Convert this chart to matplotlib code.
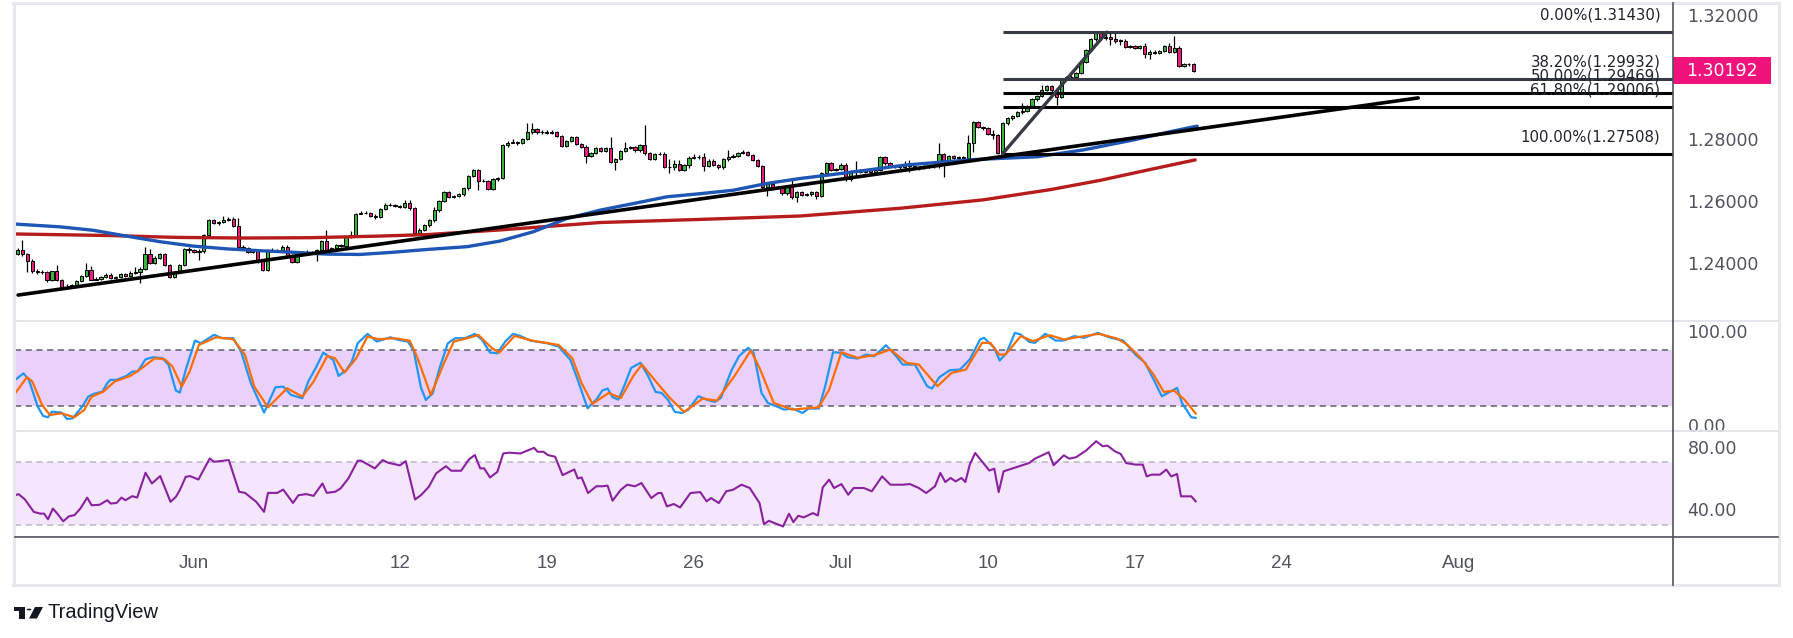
import matplotlib
matplotlib.use("Agg")
import matplotlib.pyplot as plt
from matplotlib.lines import Line2D
from matplotlib.patches import Rectangle, Polygon, Circle
from matplotlib.transforms import blended_transform_factory
import numpy as np

plt.rcParams['font.family'] = ['DejaVu Sans']

# ---------------- data ----------------
first_open = 1.2428
closes = [
 1.2440,1.2426,1.2405,1.2373,1.2368,1.2369,1.2343,1.2371,1.2345,1.2320,
 1.2322,1.2327,1.2341,1.2356,1.2376,1.2345,1.2348,1.2352,1.2360,1.2350,
 1.2352,1.2362,1.2356,1.2367,1.2370,1.2380,1.2427,1.2399,1.2416,1.2427,
 1.2392,1.2354,1.2370,1.2392,1.2444,1.2440,1.2435,1.2437,1.2489,1.2537,
 1.2526,1.2530,1.2538,1.2541,1.2518,1.2451,1.2447,1.2434,1.2436,1.2408,
 1.2376,1.2440,1.2438,1.2440,1.2451,1.2423,1.2402,1.2431,1.2433,1.2435,
 1.2432,1.2440,1.2470,1.2440,1.2446,1.2455,1.2453,1.2481,1.2488,1.2558,
 1.2561,1.2560,1.2550,1.2548,1.2571,1.2586,1.2587,1.2582,1.2580,1.2592,
 1.2575,1.2496,1.2506,1.2520,1.2536,1.2569,1.2599,1.2626,1.2612,1.2614,
 1.2620,1.2639,1.2679,1.2699,1.2664,1.2664,1.2638,1.2668,1.2671,1.2778,
 1.2787,1.2789,1.2787,1.2798,1.2820,1.2830,1.2820,1.2822,1.2817,1.2820,
 1.2808,1.2777,1.2792,1.2804,1.2782,1.2774,1.2744,1.2754,1.2768,1.2760,
 1.2768,1.2723,1.2734,1.2760,1.2770,1.2771,1.2762,1.2778,1.2752,1.2735,
 1.2750,1.2751,1.2709,1.2707,1.2717,1.2698,1.2714,1.2738,1.2739,1.2740,
 1.2711,1.2729,1.2714,1.2707,1.2733,1.2741,1.2745,1.2754,1.2757,1.2747,
 1.2731,1.2711,1.2642,1.2652,1.2639,1.2642,1.2623,1.2647,1.2610,1.2626,
 1.2618,1.2620,1.2626,1.2616,1.2688,1.2720,1.2698,1.2702,1.2716,1.2668,
 1.2696,1.2697,1.2692,1.2698,1.2691,1.2699,1.2739,1.2720,1.2712,1.2710,
 1.2707,1.2718,1.2712,1.2707,1.2708,1.2709,1.2710,1.2710,1.2750,1.2729,
 1.2744,1.2738,1.2741,1.2736,1.2784,1.2852,1.2838,1.2833,1.2814,1.2810,
 1.2754,1.2849,1.2865,1.2872,1.2884,1.2890,1.2903,1.2926,1.2937,1.2956,
 1.2969,1.2955,1.2935,1.2989,1.2997,1.2999,1.3012,1.3048,1.3085,1.3120,
 1.3141,1.3123,1.3128,1.3120,1.3116,1.3116,1.3096,1.3099,1.3092,1.3099,
 1.3072,1.3080,1.3077,1.3083,1.3098,1.3080,1.3093,1.3034,1.3039,1.3039,
 1.3019]
highs = [
 1.2446,1.2474,1.2430,1.2410,1.2380,1.2375,1.2372,1.2374,1.2392,1.2348,
 1.2330,1.2332,1.2345,1.2360,1.2397,1.2388,1.2352,1.2356,1.2366,1.2366,
 1.2356,1.2366,1.2366,1.2372,1.2384,1.2385,1.2449,1.2445,1.2420,1.2432,
 1.2431,1.2396,1.2374,1.2396,1.2448,1.2451,1.2445,1.2442,1.2492,1.2541,
 1.2541,1.2534,1.2550,1.2546,1.2546,1.2543,1.2455,1.2450,1.2441,1.2442,
 1.2412,1.2444,1.2446,1.2445,1.2455,1.2456,1.2427,1.2435,1.2438,1.2440,
 1.2438,1.2444,1.2474,1.2505,1.2450,1.2459,1.2460,1.2485,1.2501,1.2561,
 1.2566,1.2565,1.2563,1.2555,1.2575,1.2592,1.2592,1.2590,1.2587,1.2603,
 1.2601,1.2578,1.2510,1.2524,1.2540,1.2580,1.2603,1.2630,1.2630,1.2618,
 1.2624,1.2643,1.2683,1.2703,1.2703,1.2668,1.2667,1.2672,1.2676,1.2782,
 1.2791,1.2797,1.2792,1.2802,1.2851,1.2849,1.2834,1.2828,1.2826,1.2826,
 1.2824,1.2812,1.2796,1.2808,1.2808,1.2786,1.2778,1.2758,1.2772,1.2772,
 1.2772,1.2804,1.2738,1.2764,1.2789,1.2776,1.2775,1.2782,1.2844,1.2756,
 1.2754,1.2756,1.2755,1.2735,1.2730,1.2730,1.2718,1.2742,1.2750,1.2746,
 1.2752,1.2733,1.2733,1.2718,1.2737,1.2763,1.2750,1.2758,1.2762,1.2760,
 1.2750,1.2735,1.2715,1.2656,1.2656,1.2646,1.2646,1.2651,1.2671,1.2630,
 1.2630,1.2624,1.2630,1.2630,1.2692,1.2724,1.2724,1.2706,1.2720,1.2720,
 1.2700,1.2727,1.2701,1.2702,1.2702,1.2704,1.2743,1.2743,1.2724,1.2716,
 1.2716,1.2728,1.2731,1.2716,1.2712,1.2713,1.2714,1.2715,1.2787,1.2754,
 1.2748,1.2748,1.2745,1.2745,1.2811,1.2856,1.2856,1.2840,1.2836,1.2826,
 1.2814,1.2853,1.2869,1.2876,1.2888,1.2915,1.2907,1.2930,1.2941,1.2973,
 1.2973,1.2973,1.2959,1.2993,1.3001,1.3004,1.3016,1.3052,1.3089,1.3124,
 1.3143,1.3143,1.3139,1.3140,1.3139,1.3121,1.3120,1.3103,1.3103,1.3103,
 1.3109,1.3084,1.3084,1.3087,1.3102,1.3109,1.3131,1.3097,1.3043,1.3044,
 1.3043]
lows = [
 1.2425,1.2420,1.2370,1.2366,1.2364,1.2362,1.2338,1.2340,1.2340,1.2316,
 1.2315,1.2318,1.2322,1.2338,1.2352,1.2342,1.2343,1.2344,1.2350,1.2346,
 1.2346,1.2349,1.2352,1.2352,1.2362,1.2333,1.2375,1.2395,1.2396,1.2412,
 1.2388,1.2350,1.2350,1.2366,1.2388,1.2432,1.2431,1.2408,1.2432,1.2485,
 1.2523,1.2522,1.2527,1.2534,1.2515,1.2447,1.2443,1.2430,1.2430,1.2397,
 1.2372,1.2372,1.2434,1.2434,1.2436,1.2420,1.2398,1.2398,1.2428,1.2430,
 1.2428,1.2404,1.2436,1.2436,1.2436,1.2442,1.2450,1.2450,1.2478,1.2484,
 1.2555,1.2555,1.2546,1.2540,1.2544,1.2568,1.2581,1.2578,1.2576,1.2577,
 1.2570,1.2492,1.2492,1.2502,1.2516,1.2532,1.2562,1.2595,1.2608,1.2608,
 1.2610,1.2616,1.2635,1.2675,1.2634,1.2659,1.2634,1.2634,1.2664,1.2668,
 1.2774,1.2784,1.2780,1.2783,1.2794,1.2815,1.2816,1.2816,1.2814,1.2814,
 1.2805,1.2774,1.2773,1.2788,1.2778,1.2770,1.2720,1.2739,1.2750,1.2756,
 1.2756,1.2720,1.2699,1.2730,1.2756,1.2766,1.2758,1.2758,1.2748,1.2731,
 1.2731,1.2746,1.2705,1.2690,1.2700,1.2694,1.2694,1.2706,1.2734,1.2735,
 1.2696,1.2707,1.2710,1.2703,1.2703,1.2729,1.2738,1.2740,1.2750,1.2743,
 1.2727,1.2707,1.2638,1.2614,1.2635,1.2636,1.2619,1.2619,1.2606,1.2596,
 1.2614,1.2614,1.2616,1.2605,1.2612,1.2684,1.2694,1.2694,1.2698,1.2664,
 1.2664,1.2679,1.2688,1.2688,1.2687,1.2687,1.2695,1.2716,1.2708,1.2705,
 1.2703,1.2703,1.2693,1.2703,1.2698,1.2703,1.2704,1.2706,1.2705,1.2677,
 1.2725,1.2734,1.2734,1.2732,1.2732,1.2757,1.2834,1.2828,1.2810,1.2800,
 1.27508,1.2751,1.2845,1.2861,1.2868,1.2880,1.2886,1.2899,1.2922,1.2933,
 1.2952,1.2951,1.2908,1.2931,1.2985,1.2993,1.2995,1.3008,1.3044,1.3081,
 1.3116,1.3119,1.3119,1.3102,1.3107,1.3102,1.3092,1.3092,1.3088,1.3088,
 1.3059,1.3055,1.3073,1.3073,1.3079,1.3076,1.3076,1.3030,1.3030,1.3034,
 1.3015]

ma_blue_idx = [-0.5,8.7,15.4,22.3,29.1,35.8,42.7,49.5,56.2,63.1,69.9,76.6,83.5,91.7,
               98.4,105.2,112.1,118.9,125.6,132.5,139.3,146.0,152.9,159.7,166.4,173.3,
               181.5,195.0,208.0,217.4,227.6,235.2,240.7]
ma_blue = [1.2524,1.2515,1.2504,1.2485,1.2467,1.2453,1.2444,1.2438,1.2433,1.2427,1.2426,
           1.2433,1.2442,1.2451,1.2469,1.2499,1.2542,1.2569,1.2590,1.2612,1.2622,1.2633,
           1.2655,1.2671,1.2684,1.2698,1.2715,1.2732,1.2741,1.2763,1.2795,1.2822,1.2840]
ma_red_idx = [-0.5,18.9,32.5,46.0,59.7,73.3,83.5,98.4,118.9,139.3,159.7,180.1,197.0,
              210.7,220.9,231.1,240.3]
ma_red = [1.2492,1.2487,1.2481,1.2479,1.2480,1.2485,1.2490,1.2505,1.2529,1.2539,1.2550,
          1.2575,1.2602,1.2635,1.2665,1.2700,1.2731]

trend_idx = [0.1, 285.8]
trend_price = [1.2295, 1.2931]

fib_names = ["0.00%", "38.20%", "50.00%", "61.80%", "100.00%"]
fib_prices = [1.31430, 1.29932, 1.29469, 1.29006, 1.27508]
fib_colors = ["#363a45", "#363a45", "#000000", "#000000", "#000000"]
fib_start_idx = 201.0
fib_diag_idx = [201.0, 222.3]
fib_diag_price = [1.27508, 1.31430]

current_price = 1.30192
price_ticks = [1.24, 1.26, 1.28, 1.32]

stoch_k_idx = [-0.5,1.2,2.3,4.1,5.2,6.2,7,9,10.1,11.2,13.2,14.4,15.5,17.3,18.3,18.9,20.2,22.2,
 23.4,24.5,26.1,27.6,29.6,30.8,32.3,33.1,34.3,36.2,37.4,40.1,41.7,44,45.6,47.6,50.3,52.6,54.2,
 55.8,58.1,59.3,60.8,62.4,64.4,65.5,67.1,68.2,69.4,71.4,73.3,76.1,77.6,79.6,80.8,82.3,83.3,
 84.7,86.2,87.8,89.3,91.3,93.3,94.8,96.4,97.9,99.5,101.1,102.6,104.6,108.1,110.4,112.8,114.3,
 116.3,118.1,119.3,120.4,121.4,122.6,123.9,125.2,127.1,128.5,130.2,131.4,132.7,134.1,135.6,
 136.9,138.9,140.6,142.3,143.5,145.6,147.2,149.1,150.2,151.8,153.1,154.8,156.4,158.1,160.2,
 161.4,163.5,164.8,166.4,168.1,169.3,171.4,173.1,174.8,177.2,179.3,180.6,183.1,185.6,186.6,
 188.1,190.2,192.3,194.3,196.4,197.2,199.3,200.4,201.8,203.5,204.7,206.4,207.6,209.7,211.8,
 213.5,215.6,217.6,220.4,223.1,225.6,228.1,230.1,231.8,233.5,235.1,236.6,237.6,239.5,240.4]
stoch_k = [47.9,55,48,19.4,9.4,8,14,13,6.1,6.8,19.4,30,33,35.4,44.4,48,48,52.2,
 56.9,56.9,70,72.2,71.1,64,36.5,34.4,58.6,90,87.2,96.2,92.6,92.6,78.3,44.4,13,40,40.8,
 31.9,28.3,46.2,60.4,77.2,69.4,52.2,58.6,67.6,87.2,97.2,89,93.6,90.8,89,80,40,26.5,
 33.6,62.2,87.2,92.6,92.6,97.2,90.8,77.2,76.5,89,97.2,95,90,87.2,83.6,69.4,48,
 17.6,26.9,36.5,38.7,29.4,26.9,43,60.8,66.2,53.7,35.1,34,26.9,13.7,12.6,
 16.2,30.5,26.9,24.4,28.7,57.3,73.3,82.3,76.9,34,23.3,19.8,16.2,17.3,12.6,
 17.3,17.3,41.2,77.6,76.9,72.3,70.8,75.1,73.3,85.1,73.3,64.4,64.4,41.2,38.7,
 50.8,58.3,59,69.8,91.2,93,82.3,68.7,76.9,98.3,96.5,88.7,87.6,97.3,90.1,
 90.1,94.8,93,98.3,93,90.1,75.1,66.2,48.3,30.5,35.1,39.4,23.3,8,7.3]

stoch_d_idx = [-0.5,1.9,3,5,6.6,8.9,11.6,13.6,15.1,17.5,19.8,23,25.3,28,30,31.6,33.5,35.1,37,
 40.5,44,46.4,48.3,51.1,55,58.1,60.4,63.2,64.8,66.7,69.1,71.4,73.7,76.9,80,81.5,84.3,87,89,
 92.5,94,96.8,98.3,101.4,105,110.4,113.2,115.1,117.3,120.6,123.1,125.6,127.4,130.2,133.1,
 136,139.8,142.7,146.4,149.6,151.4,154.3,158.1,163.5,165.6,168.1,171.4,174.8,178.1,181.4,
 183.9,187.7,190.6,193.5,196.8,198.5,200.3,201.6,204.7,207.2,210.6,213.5,216.4,220.6,224.3,
 226.4,229.3,231.8,233.9,236,238.1,240.4]
stoch_d = [33.6,50.8,46.2,21.2,10.4,12.2,8,15.8,30,35.4,46.2,52.2,60.4,71.1,70,62.2,40.8,56.9,85.4,
 93.6,91.5,74.7,40.8,18.6,39,30,46.2,73.6,71.1,55.8,71.1,94.4,91.5,92.6,90,72.9,31.9,65.8,89,
 93.6,96.2,81.9,77.2,95,90,85.4,71.1,44.4,22.3,34,28.7,51.9,64.4,46.5,28.7,
 13.7,28,25.8,53,79.4,60.8,23.3,16.2,18.7,37.6,77.6,71.5,74.4,80.5,66.2,
 64.4,41.2,55.5,59,87.6,87.6,75.1,75.1,94.8,89.4,95.8,91.2,93.7,97.3,92.3,
 85.8,70.8,53.7,35.1,36.5,26.9,12]

rsi_idx = [-0.5,0.2,1.5,3.3,4.6,5.4,6.2,7.2,8.1,9.3,10.5,11.6,12.8,14.2,15.1,16.7,18.3,19,20.2,
 21.2,22,23.4,24.4,26.1,27.4,29.1,31.2,32.3,33.1,34.3,35.2,36.9,39.2,40.1,43.1,45.2,46.4,47.6,
 48.7,50.3,51.1,53,54.2,56.2,57.3,58.9,60.4,62.2,63.1,64.8,65.9,67.5,69.4,70.1,72.9,74.5,75.6,
 78,79.2,81.1,82.3,83.9,85.4,87.4,88.5,90.5,92.1,93.3,94.4,95.2,96.4,97.9,99.1,100.3,102.6,
 105.4,106.1,107.3,108.2,109.7,111.2,113.6,114.3,115.1,116.4,118.1,119.3,120.4,121.4,123.1,
 124.4,126,127.3,129.3,130.7,131.4,132.5,133.9,135.2,137.3,139.3,140.6,141.5,143.1,144.6,
 146,147.7,149.4,151.4,152.3,153.3,154.8,156.2,157.4,158.3,159.3,160.4,162.3,163.3,164.3,
 165.6,166.6,168.1,169.5,170.6,172.7,174.3,176.4,178.1,180.6,182.1,183.9,185.4,187.2,188.3,
 189.3,190.4,191.4,192.6,193.4,194.3,195.4,198.3,199.3,200.2,201.2,206.4,207.6,210.4,211.4,
 213.5,214.6,216,218,220.1,221.4,222.4,223.9,225.1,226.2,228.1,229.6,230.4,231.4,233.1,
 234.4,235.4,236.6,237.4,239.5,240.4]
rsi = [49,49.7,46.3,38.4,37.3,37.3,33.7,40.5,37.3,32.4,35.6,36.3,40.5,47.5,42.6,42.9,45.8,43.7,44.1,
 47.5,45.8,48.4,47.5,63.3,56.5,61.2,44.8,48,52.2,60.7,61.2,59,72.4,70.3,71.4,51.2,50.5,47.5,
 44.8,38.4,50.5,50.5,52.6,44.1,49,49.7,48.6,56.5,50.5,51.2,53.3,59.7,71,71,66.1,71.4,69.7,
 68,70.7,46.3,49,54.3,62.9,67.5,64.6,64.6,71.8,74.6,66.1,66.1,60.3,63.9,75.6,76.1,75.6,
 79.2,76.7,76.7,74.6,73.5,61.8,65.4,59.7,60.3,50.4,54.7,54.7,55.1,45.5,52.5,
 55.7,54.7,56.8,47.2,50.4,50.4,41.9,43.4,41.2,50.4,51,45.1,47.2,44,51.5,
 52.5,55.7,53.6,44,30.6,32.7,30.8,29.1,37.2,31.9,35.9,34.9,37.6,36.1,54,
 58.9,53.6,56.1,49.3,53.6,53.6,51.5,61,55.7,55.7,56.1,53.6,50.4,54.7,63.2,
 57.4,60,57.8,60,57.4,68.5,75.9,64.7,65.9,51,64.2,69.5,72.3,76.4,68.1,
 74.4,72.3,73.2,77.4,83.4,80.2,80.6,77,75.3,69.5,68.5,68.5,61,62.1,62.1,
 65.3,61,62.5,48.3,48.3,45.1]

time_tick_idx = [36, 78, 108, 138, 168, 198, 228, 258, 294]
time_tick_labels = ["Jun", "12", "19", "26", "Jul", "10", "17", "24", "Aug"]

# ---------------- layout ----------------
W, H, DPI = 1793, 638, 100
fig = plt.figure(figsize=(W / DPI, H / DPI), dpi=DPI)
fig.patch.set_facecolor("white")

def fx(px):
    return px / W

def fy(py):
    return 1 - py / H

X0, X1 = 15, 1673
XLIM = (-0.53, 337.8)
TXT = "#50535e"

def make_ax(top, bottom):
    a = fig.add_axes([fx(X0), fy(bottom), fx(X1) - fx(X0), fy(top) - fy(bottom)])
    for s in a.spines.values():
        s.set_visible(False)
    a.set_xlim(*XLIM)
    a.set_facecolor("white")
    a.yaxis.tick_right()
    a.tick_params(axis="both", length=0, labelsize=12.5, colors=TXT, pad=10.5)
    a.set_xticks([])
    return a

ax = make_ax(4, 321)
ax_s = make_ax(321, 430.7)
ax_r = make_ax(430.7, 537.3)

ax.set_ylim(1.22113, 1.32339)
ax_s.set_ylim(-6.4, 111.0)
ax_r.set_ylim(22.2, 90.1)

# ---------------- candles ----------------
c = np.array(closes)
o = np.array([first_open] + closes[:-1])
hi = np.array(highs)
lo = np.array(lows)
idx = np.arange(len(c))
up = c >= o
GREEN, PINK = "#36b536", "#ee1c7c"
ax.vlines(idx, lo, hi, color="black", lw=0.9, zorder=2)
body_bot = np.minimum(o, c)
body_h = np.maximum(np.abs(c - o), 0.00004)
ax.bar(idx, body_h, bottom=body_bot, width=0.66,
       color=np.where(up, GREEN, PINK), edgecolor="black", linewidth=0.7, zorder=3)

# moving averages & trendline
ax.plot(ma_red_idx, ma_red, color="#b71c1c", lw=2.4, zorder=4, solid_capstyle="round")
ax.plot(ma_blue_idx, ma_blue, color="#1d56b4", lw=2.4, zorder=4, solid_capstyle="round")
ax.plot(trend_idx, trend_price, color="black", lw=2.6, zorder=5, solid_capstyle="round")

# fibonacci
for name, pr, col in zip(fib_names, fib_prices, fib_colors):
    ax.hlines(pr, fib_start_idx, XLIM[1], color=col, lw=2.2, zorder=6)
    ax.annotate(f"{name}({pr:.5f})", xy=(335.2, pr), xytext=(0, 9),
                textcoords="offset points", ha="right", va="baseline",
                fontsize=10.7, color="#1e222d", zorder=7)
ax.plot(fib_diag_idx, fib_diag_price, color="#363a45", lw=2.4, zorder=6,
        solid_capstyle="round")

# price axis
ax.set_yticks(price_ticks)
ax.set_yticklabels([f"{v:.5f}" for v in price_ticks])
tr = blended_transform_factory(ax.transAxes, ax.transData)
box_w = 98 / (X1 - X0)
ax.add_patch(Rectangle((1.0, current_price - 0.00435), box_w, 0.0087, transform=tr,
                       facecolor="#f2127c", edgecolor="none", clip_on=False, zorder=8))
ax.text(1.0 + box_w / 2, current_price, f"{current_price:.5f}", transform=tr,
        ha="center", va="center", color="white", fontsize=12.5, clip_on=False, zorder=9)

# ---------------- stochastic ----------------
ax_s.axhspan(20, 80, color="#e9d1fc", lw=0, zorder=0)
for lvl in (80, 20):
    ax_s.axhline(lvl, color="#5d606b", lw=1.1, dashes=(4, 3), zorder=1)
ax_s.plot(stoch_k_idx, stoch_k, color="#2196f3", lw=1.6, zorder=3)
ax_s.plot(stoch_d_idx, stoch_d, color="#ff6d00", lw=1.6, zorder=3)
ax_s.set_yticks([100, 0])
ax_s.set_yticklabels(["100.00", "0.00"])

# ---------------- RSI ----------------
ax_r.axhspan(30, 70, color="#f3e6fd", lw=0, zorder=0)
for lvl in (70, 30):
    ax_r.axhline(lvl, color="#b8b9c0", lw=1.1, dashes=(4, 3), zorder=1)
ax_r.plot(rsi_idx, rsi, color="#8a229f", lw=1.5, zorder=3)
ax_r.set_yticks([80, 40])
ax_r.set_yticklabels(["80.00", "40.00"])

ax_r.set_xticks(time_tick_idx)
ax_r.set_xticklabels(time_tick_labels)
ax_r.tick_params(axis="x", length=0, pad=13, labelsize=13.5, colors=TXT)
for t in ax_r.get_xticklabels():
    t.set_family(["Liberation Sans", "DejaVu Sans"])

# ---------------- frame / separators ----------------
def hline(y, x0, x1, color, lw):
    fig.add_artist(Line2D([fx(x0), fx(x1)], [fy(y), fy(y)], color=color, lw=lw,
                          transform=fig.transFigure, zorder=10))

def vline(x, y0, y1, color, lw):
    fig.add_artist(Line2D([fx(x), fx(x)], [fy(y0), fy(y1)], color=color, lw=lw,
                          transform=fig.transFigure, zorder=10))

FR = "#e6e8ee"
hline(2.5, 13, 1779, FR, 2.2)
hline(585, 13, 1779, FR, 2.2)
vline(13.5, 2.5, 585, FR, 2.2)
vline(1778.5, 2.5, 585, FR, 2.2)
hline(321, 15, 1778, "#e0e3eb", 1.3)
hline(430.7, 15, 1778, "#e0e3eb", 1.3)
hline(537.3, 15, 1778, "#50535e", 1.2)
vline(X1, 3, 585, "#50535e", 1.2)

# ---------------- logo ----------------
logo = "#131722"
fig.add_artist(Rectangle((fx(14), fy(611)), fx(11), 4 / H, transform=fig.transFigure,
                         facecolor=logo, edgecolor="none"))
fig.add_artist(Rectangle((fx(19), fy(618.5)), fx(6), 11.5 / H, transform=fig.transFigure,
                         facecolor=logo, edgecolor="none"))
fig.add_artist(Circle((fx(29), fy(609.5)), 2.4 / W, transform=fig.transFigure,
                      facecolor=logo, edgecolor="none"))
fig.add_artist(Polygon([(fx(35), fy(607)), (fx(43), fy(607)), (fx(37), fy(618.5)),
                        (fx(29), fy(618.5))], closed=True, transform=fig.transFigure,
                       facecolor=logo, edgecolor="none"))
fig.text(fx(48), fy(612.5), "TradingView", fontsize=14.5, color=logo, va="center",
         ha="left", family=["Liberation Sans Narrow", "Liberation Sans", "DejaVu Sans"])

fig.savefig("out.png", dpi=DPI, facecolor="white")
